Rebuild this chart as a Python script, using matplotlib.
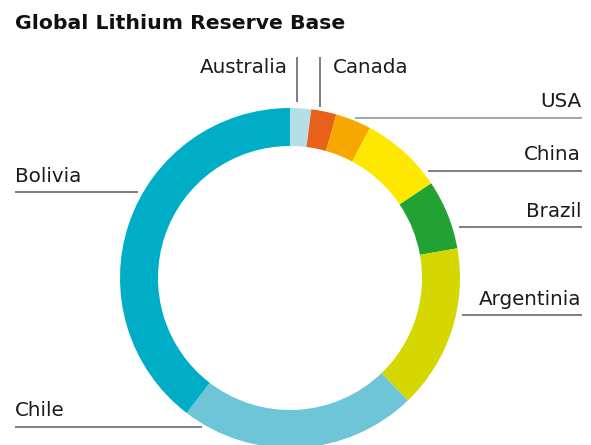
import matplotlib
matplotlib.use("Agg")
import matplotlib.pyplot as plt

# share of global lithium reserve base (%), clockwise from the top
countries = ["Australia", "Canada", "USA", "China", "Brazil", "Argentinia", "Chile", "Bolivia"]
shares = [2.0, 2.4, 3.4, 7.8, 6.6, 15.6, 22.6, 39.6]
colors = ["#b5dfe7", "#e8611a", "#f6a800", "#ffe800", "#21a232", "#d4d700", "#6dc5d7", "#00adc6"]

H = 445
fig = plt.figure(figsize=(5.91, 4.45), dpi=100)
ax = fig.add_axes([0, 0, 1, 1])

ax.pie(shares, colors=colors, startangle=90, counterclock=False,
       center=(290, H - 278), radius=170,
       wedgeprops=dict(width=38, linewidth=0))
ax.set_xlim(0, 591)
ax.set_ylim(0, H)
ax.set_aspect("equal")
ax.axis("off")

fs = 14.3
tc = "#1a1a1a"
lc = "#5a5a5a"

def hline(x0, x1, y, c=lc):
    ax.plot([x0, x1], [H - y, H - y], color=c, linewidth=1.1, solid_capstyle="butt")

def vline(x, y0, y1):
    ax.plot([x, x], [H - y0, H - y1], color=lc, linewidth=1.1, solid_capstyle="butt")

def label(x, y, s, ha):
    ax.text(x, H - y, s, fontsize=fs, color=tc, ha=ha, va="baseline")

# left labels
label(15, 182, "Bolivia", "left")
hline(15, 138, 192)
label(15, 416, "Chile", "left")
hline(15, 202, 427)

# top labels
label(288, 73, "Australia", "right")
vline(297, 57, 102)
label(333, 73, "Canada", "left")
vline(320, 57, 107)

# right labels
label(581, 107, "USA", "right")
hline(355, 582, 118, "#8c8c8c")
label(581, 160, "China", "right")
hline(428, 582, 171)
label(581, 217, "Brazil", "right")
hline(459, 582, 227)
label(581, 305, "Argentinia", "right")
hline(462, 582, 315)

ax.text(15, H - 29, "Global Lithium Reserve Base", fontsize=14.7, fontweight="bold",
        color="#111111", ha="left", va="baseline")

fig.savefig("out.png", dpi=100)
